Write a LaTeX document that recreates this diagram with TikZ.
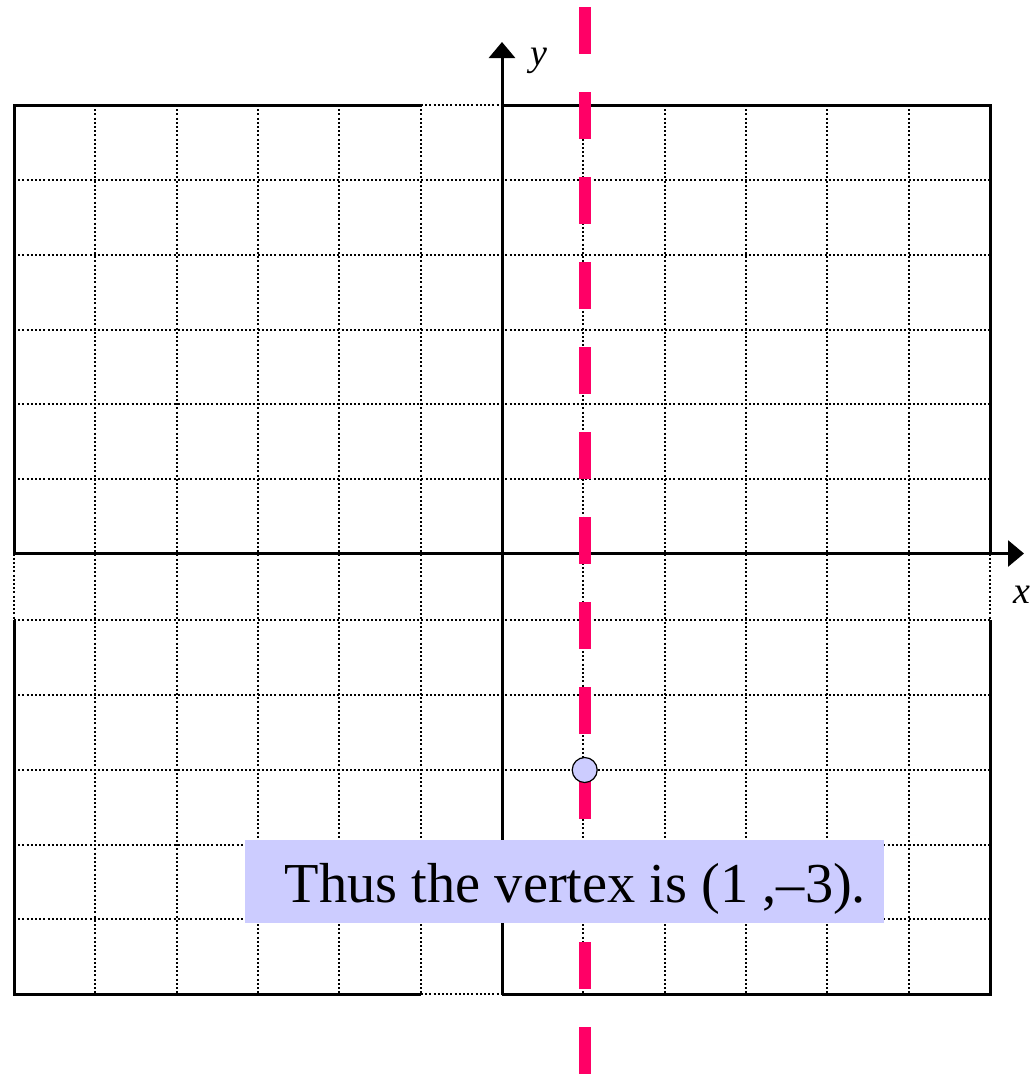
\documentclass[tikz,border=0pt]{standalone}
\usepackage{fontspec}
\setmainfont{Liberation Serif}
\usetikzlibrary{arrows.meta}

\definecolor{vlilac}{HTML}{CCCCFF}
\definecolor{vpink}{HTML}{FF0066}

\begin{document}
\begin{tikzpicture}[
  x=0.5pt, y=-0.5pt,
  >={Triangle[length=8pt,width=13pt]},
  gridln/.style={line width=1pt, dash pattern=on 1pt off 1.1pt},
  frame/.style={line width=1.5pt},
  axis/.style={->, line width=1.5pt},
  sym/.style={draw=vpink, line width=6pt, dash pattern=on 23.5pt off 19pt},
  lab/.style={font=\fontsize{19}{22}\selectfont\itshape, inner sep=0pt, anchor=base},
  vert/.style={circle, draw=black, line width=0.6pt, fill=vlilac, minimum size=12.5pt, inner sep=0pt},
  note/.style={fill=vlilac, minimum width=319.5pt, minimum height=41.5pt, inner sep=0pt,
               text height=24pt, text depth=3.5pt, font=\fontsize{28.2}{34}\selectfont},
]
\useasboundingbox (0,0) rectangle (1036,1076);

\def\xl{14}  \def\xr{990}  \def\xo{502}  \def\xm{421}
\def\yt{105} \def\yb{994}  \def\yo{553.5} \def\ym{620}

% grid
\foreach \i in {1,...,11} { \draw[gridln] ({\xl+81.333*\i},\yt) -- ({\xl+81.333*\i},\yb); }
\foreach \y in {180,255,330,404,479,620,695,770,845,919} { \draw[gridln] (\xl,\y) -- (\xr,\y); }
\draw[gridln] (\xm,\yt) -- (\xo,\yt) (\xm,\yb) -- (\xo,\yb) (\xl,\yo) -- (\xl,\ym) (\xr,\yo) -- (\xr,\ym);

% frame
\draw[frame] (\xm,\yt) -- (\xl,\yt) -- (\xl,\yo);
\draw[frame] (\xo,\yt) -- (\xr,\yt) -- (\xr,\yo);
\draw[frame] (\xl,\ym) -- (\xl,\yb) -- (\xm,\yb);
\draw[frame] (\xr,\ym) -- (\xr,\yb) -- (\xo,\yb);

% axes
\coordinate (xs) at (\xl,\yo);  \coordinate (xe) at (1024,\yo);
\coordinate (ys) at (\xo,\yb);  \coordinate (ye) at (\xo,42);
\draw[axis] (xs) -- (xe);
\draw[axis] (ys) -- (ye);
\node[lab] (ylab) at (539,65) {y};
\node[lab] (xlab) at (1022,603) {x};

% axis of symmetry
\coordinate (st) at (584.7,7);  \coordinate (sb) at (584.7,1076);
\draw[sym] (st) -- (sb);

% vertex
\node[vert] (v) at (584.7,770) {};
\node[note] (msg) at (564.5,881.5) {\hspace*{11pt}Thus the vertex is (1 ,–3).};

\end{tikzpicture}
\end{document}
